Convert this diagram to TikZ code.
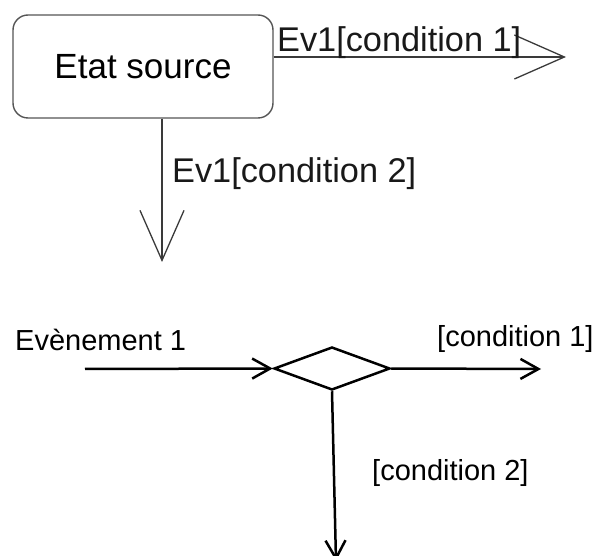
\documentclass[tikz,border=0pt]{standalone}
\usepackage{fontspec}
\setmainfont{Liberation Sans}
\usepackage{tikz}
\usetikzlibrary{shapes.geometric, arrows.meta}
\definecolor{boxgray}{HTML}{555555}
\definecolor{edgegray}{HTML}{3A3A3A}
\tikzstyle{state} = [rectangle, rounded corners=15pt, minimum width=260pt, minimum height=103pt, text centered, draw=boxgray, line width=1.4pt, font=\fontsize{35}{40}\selectfont]
\tikzstyle{choice} = [diamond, draw=black, line width=2.5pt, minimum width=116pt, minimum height=43pt, inner sep=0pt]
\tikzstyle{cond} = [inner sep=0pt, anchor=base west, text=black!90, font=\fontsize{34.3}{39}\selectfont]
\tikzstyle{evt} = [inner sep=0pt, anchor=base west, text=black, font=\fontsize{29}{34}\selectfont]
\tikzstyle{transition} = [line width=1.3pt, draw=edgegray, -{Straight Barb[length=50pt, width=44pt]}]
\tikzstyle{flow} = [line width=2.5pt, -{Straight Barb[length=18pt, width=20pt]}]

\begin{document}
\begin{tikzpicture}[x=1pt, y=-1pt]
				\useasboundingbox (0,0) rectangle (606,556);
				%----------------------------------------------------%
				\node(src) [state] at (143,66.5) {Etat source};
				\coordinate (end1) at (566,57);
				\coordinate (end2) at (162,262);
				
				\draw[transition] (end1 -| src.east) -- (end1);
				\draw[transition] (end2 |- src.south) -- (end2);
				\node(lblt1) [cond] at (277,52) {Ev1[condition 1]};
				\node(lblt2) [cond] at (172,183) {Ev1[condition 2]};
				
				%----------------------------------------------------%
				\node(dec) [choice] at (332,368.5) {};
				\coordinate (evin) at (85,369);
				\coordinate (end3) at (541,369);
				\coordinate (end4) at (336,561);
				
				\draw[flow] (evin) -- (dec.west);
				\draw[flow] (dec.east) -- (end3);
				\draw[flow] (dec.south) -- (end4);
				\node(lblev) [evt] at (15,351) {Evènement 1};
				\node(lblc1) [evt] at (437,347) {[condition 1]};
				\node(lblc2) [evt] at (372,480) {[condition 2]};
			\end{tikzpicture}
\end{document}
